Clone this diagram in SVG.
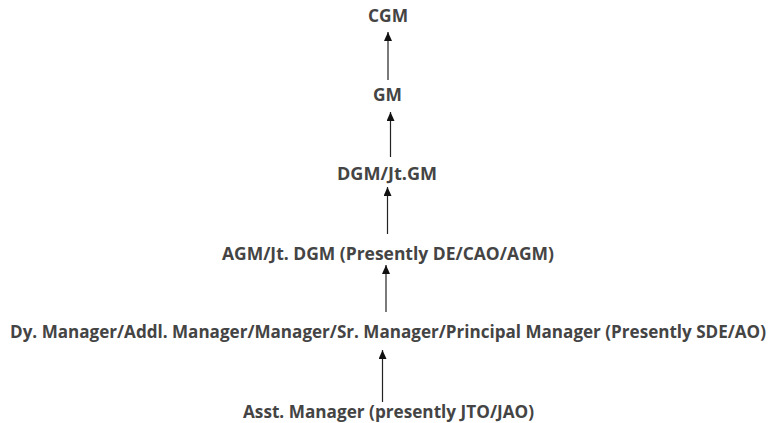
<svg xmlns="http://www.w3.org/2000/svg" width="769" height="423" viewBox="0 0 769 423">
  <defs>
    <marker id="ah" markerWidth="9" markerHeight="8" refX="9" refY="4" orient="auto" markerUnits="userSpaceOnUse" viewBox="0 0 9 8">
      <path d="M9,4 L0,0 L0,8 Z" fill="#111"/>
    </marker>
    <style>
      text { font-family: "Open Sans", "Liberation Sans", sans-serif; font-weight: bold; font-size: 17px; fill: #444; text-anchor: middle; }
      .conn line { stroke: #222; stroke-width: 1.2; }
    </style>
  </defs>
  <rect width="769" height="423" fill="#fff"/>
  <g id="node-cgm"><text x="388" y="22" textLength="40" lengthAdjust="spacingAndGlyphs">CGM</text></g>
  <g id="node-gm"><text x="387.5" y="101" textLength="29" lengthAdjust="spacingAndGlyphs">GM</text></g>
  <g id="node-dgm"><text x="387" y="180" textLength="100" lengthAdjust="spacingAndGlyphs">DGM/Jt.GM</text></g>
  <g id="node-agm"><text x="388" y="260" textLength="332" lengthAdjust="spacingAndGlyphs">AGM/Jt. DGM (Presently DE/CAO/AGM)</text></g>
  <g id="node-dy"><text x="388" y="338" textLength="756" lengthAdjust="spacingAndGlyphs">Dy. Manager/Addl. Manager/Manager/Sr. Manager/Principal Manager (Presently SDE/AO)</text></g>
  <g id="node-asst"><text x="388.5" y="418" textLength="291" lengthAdjust="spacingAndGlyphs">Asst. Manager (presently JTO/JAO)</text></g>
  <g id="connectors" class="conn">
    <line x1="388" y1="80" x2="388" y2="32" marker-end="url(#ah)"/>
    <line x1="390.5" y1="157" x2="390.5" y2="112" marker-end="url(#ah)"/>
    <line x1="387.5" y1="234" x2="387.5" y2="187" marker-end="url(#ah)"/>
    <line x1="386" y1="312" x2="386" y2="265" marker-end="url(#ah)"/>
    <line x1="382.5" y1="402" x2="382.5" y2="350" marker-end="url(#ah)"/>
  </g>
</svg>
